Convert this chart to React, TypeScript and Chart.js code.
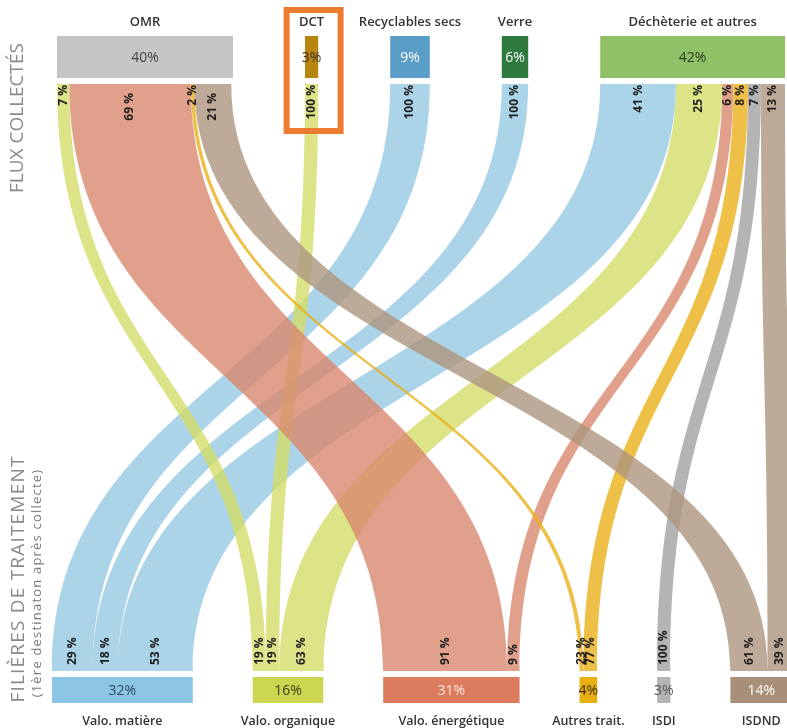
import React, { useEffect, useRef } from 'react';
import { Chart, registerables } from 'chart.js';
Chart.register(...registerables);

// ---------- DATA ----------
const sourceNames = ['OMR', 'DCT', 'Recyclables secs', 'Verre', 'Déchèterie et autres'];
const sourceValues = [40, 3, 9, 6, 42];
const targetNames = ['Valo. matière', 'Valo. organique', 'Valo. énergétique', 'Autres trait.', 'ISDI', 'ISDND'];
const targetValues = [32, 16, 31, 4, 3, 14];
const linkSource = [0, 0, 0, 0, 1, 2, 3, 4, 4, 4, 4, 4, 4];
const linkTarget = [1, 2, 3, 5, 1, 0, 0, 0, 1, 2, 3, 4, 5];
const linkSourcePct = [7, 69, 2, 21, 100, 100, 100, 41, 25, 6, 8, 7, 13];
const linkTargetPct = [19, 91, 23, 61, 19, 29, 18, 53, 63, 9, 77, 100, 39];
const topTitle = 'FLUX COLLECTÉS';
const bottomTitle = 'FILIÈRES DE TRAITEMENT';
const bottomSubtitle = '(1ère destinaton après collecte)';
const highlightedSource = 1;

// ---------- STYLES ----------
const sourceColors = ['#c4c6c6', '#b8860f', '#5b9dc9', '#2f7a3e', '#8fc167'];
const sourceTextColors = ['#444444', '#3a3020', '#ffffff', '#ffffff', '#2e3a22'];
const targetColors = ['#8cc6e4', '#cdd651', '#dd7b5f', '#e8b013', '#b4b4b4', '#a88f77'];
const targetTextColors = ['#2d4a60', '#3a3d10', '#fbe6dd', '#3a2e05', '#555555', '#ffffff'];
const flowColors = [
  'rgba(150,201,226,0.8)',
  'rgba(211,221,105,0.8)',
  'rgba(217,136,111,0.8)',
  'rgba(234,176,26,0.8)',
  'rgba(161,161,161,0.8)',
  'rgba(174,149,126,0.8)',
];
// extra downward shift of some top flow labels (px), per link
const topLabelShift = [0, 8, 0, 8, 0, 0, 0, 0, 0, 0, 0, 0, 0];

// ---------- LAYOUT ----------
const W = 787;
const H = 728;
const UNIT_PX = 4.4;
const TOP_START = 57 / UNIT_PX;
const TOP_GAP = 72 / UNIT_PX;
const BOT_START = 52 / UNIT_PX;
const BOT_GAP = 60 / UNIT_PX;
const Y = {
  topLabel: 22,
  topNode0: 36,
  topNode1: 78,
  flow0: 84,
  flow1: 671,
  botNode0: 677,
  botNode1: 703,
  botLabel: 721,
  topFlowLabel: 85,
  botFlowLabel: 665,
};
const FONT = '"Open Sans", "DejaVu Sans", sans-serif';

function positions(values: number[], start: number, gap: number) {
  const xs: number[] = [];
  let x = start;
  values.forEach((v) => {
    xs.push(x);
    x += v + gap;
  });
  return xs;
}

const sankeyPlugin = {
  id: 'sankeyDraw',
  afterDraw(chart: any) {
    const ctx: CanvasRenderingContext2D = chart.ctx;
    const xs = chart.scales.x;
    const ys = chart.scales.y;
    const px = (v: number) => xs.getPixelForValue(v);
    const py = (v: number) => ys.getPixelForValue(v);

    const topX = positions(sourceValues, TOP_START, TOP_GAP);
    const botX = positions(targetValues, BOT_START, BOT_GAP);

    const n = linkSource.length;
    const sStart: number[] = new Array(n);
    const sWidth: number[] = new Array(n);
    const tStart: number[] = new Array(n);
    const tWidth: number[] = new Array(n);
    sourceValues.forEach((sv, s) => {
      let off = topX[s];
      const idx = [...Array(n).keys()].filter((i) => linkSource[i] === s).sort((a, b) => linkTarget[a] - linkTarget[b]);
      idx.forEach((i) => {
        const w = (sv * linkSourcePct[i]) / 100;
        sStart[i] = off;
        sWidth[i] = w;
        off += w;
      });
    });
    targetValues.forEach((tv, t) => {
      let off = botX[t];
      const idx = [...Array(n).keys()].filter((i) => linkTarget[i] === t).sort((a, b) => linkSource[a] - linkSource[b]);
      idx.forEach((i) => {
        const w = (tv * linkTargetPct[i]) / 100;
        tStart[i] = off;
        tWidth[i] = w;
        off += w;
      });
    });

    const ya = py(Y.flow0);
    const yb = py(Y.flow1);
    const ym = (ya + yb) / 2;

    ctx.save();
    const order = [...Array(n).keys()].sort((a, b) => linkTarget[a] - linkTarget[b] || linkSource[a] - linkSource[b]);
    order.forEach((i) => {
      const a0 = px(sStart[i]);
      const a1 = px(sStart[i] + sWidth[i]);
      const b0 = px(tStart[i]);
      const b1 = px(tStart[i] + tWidth[i]);
      ctx.beginPath();
      ctx.moveTo(a0, ya);
      ctx.lineTo(a1, ya);
      ctx.bezierCurveTo(a1, ym, b1, ym, b1, yb);
      ctx.lineTo(b0, yb);
      ctx.bezierCurveTo(b0, ym, a0, ym, a0, ya);
      ctx.closePath();
      ctx.fillStyle = flowColors[linkTarget[i]];
      ctx.fill();
    });

    // flow labels
    ctx.fillStyle = '#1e1e1e';
    ctx.font = `bold 12px ${FONT}`;
    ctx.textBaseline = 'middle';
    for (let i = 0; i < n; i++) {
      ctx.save();
      ctx.translate(px(sStart[i] + sWidth[i] / 2), py(Y.topFlowLabel + topLabelShift[i]));
      ctx.rotate(-Math.PI / 2);
      ctx.textAlign = 'right';
      ctx.fillText(`${linkSourcePct[i]} %`, 0, 0);
      ctx.restore();
      ctx.save();
      ctx.translate(px(tStart[i] + tWidth[i] / 2), py(Y.botFlowLabel));
      ctx.rotate(-Math.PI / 2);
      ctx.textAlign = 'left';
      ctx.fillText(`${linkTargetPct[i]} %`, 0, 0);
      ctx.restore();
    }

    // source nodes
    sourceValues.forEach((v, s) => {
      const x0 = px(topX[s]);
      const x1 = px(topX[s] + v);
      const y0 = py(Y.topNode0);
      const y1 = py(Y.topNode1);
      ctx.fillStyle = sourceColors[s];
      ctx.fillRect(x0, y0, x1 - x0, y1 - y0);
      ctx.fillStyle = sourceTextColors[s];
      ctx.font = `14px ${FONT}`;
      ctx.textAlign = 'center';
      ctx.textBaseline = 'middle';
      ctx.fillText(`${v}%`, (x0 + x1) / 2, (y0 + y1) / 2 + 1);
      ctx.fillStyle = '#333333';
      ctx.font = `600 13px ${FONT}`;
      ctx.fillText(sourceNames[s], (x0 + x1) / 2, py(Y.topLabel));
    });

    // target nodes
    targetValues.forEach((v, t) => {
      const x0 = px(botX[t]);
      const x1 = px(botX[t] + v);
      const y0 = py(Y.botNode0);
      const y1 = py(Y.botNode1);
      ctx.fillStyle = targetColors[t];
      ctx.fillRect(x0, y0, x1 - x0, y1 - y0);
      ctx.fillStyle = targetTextColors[t];
      ctx.font = `14px ${FONT}`;
      ctx.textAlign = 'center';
      ctx.textBaseline = 'middle';
      ctx.fillText(`${v}%`, (x0 + x1) / 2, (y0 + y1) / 2 + 1);
      ctx.fillStyle = '#333333';
      ctx.font = `600 12.5px ${FONT}`;
      ctx.fillText(targetNames[t], (x0 + x1) / 2, py(Y.botLabel));
    });

    // highlight box around a source
    {
      const s = highlightedSource;
      const cx = px(topX[s] + sourceValues[s] / 2) + 2;
      ctx.strokeStyle = '#ec7c30';
      ctx.lineWidth = 6;
      ctx.strokeRect(cx - 27, py(10), 54, py(131) - py(10));
    }

    // side titles
    ctx.textAlign = 'center';
    ctx.textBaseline = 'middle';
    const side = (text: string, x: number, y: number, font: string, color: string, spacing: string) => {
      ctx.save();
      ctx.translate(x, y);
      ctx.rotate(-Math.PI / 2);
      ctx.font = font;
      ctx.fillStyle = color;
      (ctx as any).letterSpacing = spacing;
      ctx.fillText(text, 0, 0);
      ctx.restore();
    };
    side(topTitle, 18, py(118), `19px ${FONT}`, '#8a8a8a', '0px');
    side(bottomTitle, 19, py(579), `19px ${FONT}`, '#8a8a8a', '1.2px');
    side(bottomSubtitle, 37, py(583), `13px ${FONT}`, '#7a7a7a', '1.2px');
    ctx.restore();
  },
};

export default function App() {
  const ref = useRef<HTMLCanvasElement>(null);
  useEffect(() => {
    if (!ref.current) return;
    const chart = new Chart(ref.current, {
      type: 'scatter',
      data: { datasets: [] },
      options: {
        animation: false,
        responsive: false,
        devicePixelRatio: 1,
        layout: { padding: 0 },
        plugins: { legend: { display: false }, tooltip: { enabled: false } },
        scales: {
          x: { type: 'linear', min: 0, max: W / UNIT_PX, display: false },
          y: { type: 'linear', min: 0, max: H, reverse: true, display: false },
        },
      },
      plugins: [sankeyPlugin],
    });
    return () => chart.destroy();
  }, []);
  return (
    <div style={{ position: 'absolute', left: 0, top: 0, width: W, height: H, background: '#ffffff' }}>
      <canvas ref={ref} width={W} height={H} style={{ display: 'block' }} />
    </div>
  );
}
